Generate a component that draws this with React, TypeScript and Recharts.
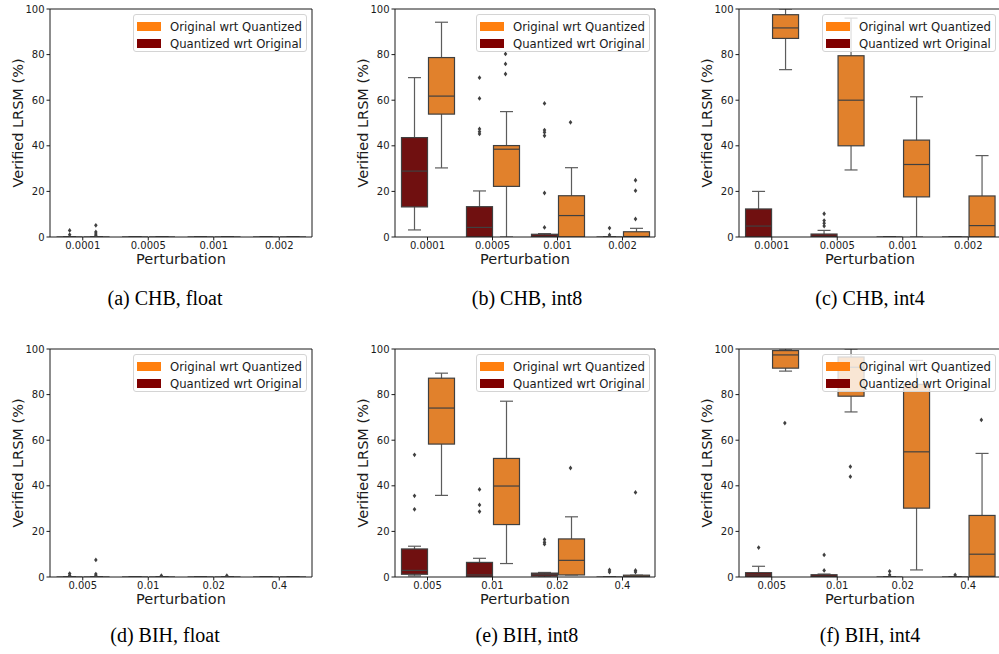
import React from 'react';
import { ComposedChart, Bar, Scatter, XAxis, YAxis, Legend, ReferenceLine } from 'recharts';

// perturbation levels per dataset
const CHB_CATS = ['0.0001', '0.0005', '0.001', '0.002'];
const BIH_CATS = ['0.005', '0.01', '0.02', '0.4'];
const Y_TICKS = [0, 20, 40, 60, 80, 100];

// box stats per perturbation: [whisker low, q1, median, q3, whisker high]
// "quant" = Quantized wrt Original, "orig" = Original wrt Quantized
const chbFloatQuant = [[0, 0, 0, 0, 0], [0, 0, 0, 0, 0], [0, 0, 0, 0, 0], [0, 0, 0, 0, 0]];
const chbFloatOrig = [[0, 0, 0, 0, 0], [0, 0, 0, 0, 0], [0, 0, 0, 0, 0], [0, 0, 0, 0, 0]];
const chbFloatQuantOut = [[2.9, 1.0], [], [], []];
const chbFloatOrigOut = [[5.1, 2.2, 1.3, 0.6], [], [], []];

const chbInt8Quant = [[3.1, 13.2, 28.9, 43.6, 69.9], [0, 0, 4.2, 13.3, 20.2], [0, 0, 0.3, 1.2, 1.5], [0, 0, 0, 0, 0]];
const chbInt8Orig = [[30.3, 53.9, 61.8, 78.7, 94.2], [0, 22.2, 38.5, 40.1, 55], [0, 0, 9.4, 18.1, 30.4], [0, 0, 0.2, 2.3, 3.8]];
const chbInt8QuantOut = [[], [69.9, 60.8, 47.4, 46.2, 45.2], [58.6, 46.9, 45.9, 44.4, 19.3, 4.2], [3.9, 0.9]];
const chbInt8OrigOut = [[], [80.3, 75.9, 71.5], [50.3], [24.9, 20.3, 7.9]];

const chbInt4Quant = [[0, 0, 4.8, 12.3, 20], [0, 0, 0.3, 1.3, 2.9], [0, 0, 0, 0, 0], [0, 0, 0, 0, 0]];
const chbInt4Orig = [[73.4, 87.1, 91.7, 97.5, 100], [29.4, 40, 60, 79.5, 96], [0, 17.6, 31.8, 42.5, 61.5], [0, 0, 5, 18, 35.7]];
const chbInt4QuantOut = [[], [10.2, 7.2, 6.0, 4.8], [], []];
const chbInt4OrigOut = [[], [], [], []];

const bihFloatQuant = [[0, 0, 0, 0, 0], [0, 0, 0, 0, 0], [0, 0, 0, 0, 0], [0, 0, 0, 0, 0]];
const bihFloatOrig = [[0, 0, 0, 0, 0], [0, 0, 0, 0, 0], [0, 0, 0, 0, 0], [0, 0, 0, 0, 0]];
const bihFloatQuantOut = [[1.5, 0.7], [], [], []];
const bihFloatOrigOut = [[7.5, 1.3, 0.6], [0.6], [0.6], []];

const bihInt8Quant = [[0.5, 1.2, 2.9, 12.3, 13.5], [0, 0, 0.9, 6.4, 8.2], [0, 0.4, 1.2, 1.7, 2], [0, 0, 0, 0, 0]];
const bihInt8Orig = [[35.8, 58.3, 74.1, 87.2, 89.4], [5.9, 23.0, 39.9, 52.0, 77.1], [0.9, 0.9, 7.3, 16.7, 26.4], [0, 0, 0.3, 0.8, 0.8]];
const bihInt8QuantOut = [[53.6, 35.6, 29.7], [38.4, 31.6, 28.7], [16.4, 15.2, 14.4], [3.1, 2.2]];
const bihInt8OrigOut = [[], [], [47.8], [37.1, 2.9, 2.2]];

const bihInt4Quant = [[0, 0, 0.9, 1.9, 4.7], [0, 0, 0.3, 1.0, 1.3], [0, 0, 0, 0, 0], [0, 0, 0, 0, 0]];
const bihInt4Orig = [[90.3, 91.6, 97.4, 99.3, 100], [72.4, 79.3, 92, 96.5, 100], [3.1, 30.2, 54.9, 84.5, 95], [0, 0.3, 10, 27, 54.2]];
const bihInt4QuantOut = [[12.9], [9.7, 2.9], [2.5, 0.9], [0.9]];
const bihInt4OrigOut = [[67.5], [48.4, 44], [], [68.9]];

const ORANGE = '#ff7f0e';
const ORANGE_BOX = '#e1812c';
const DARK = '#800000';
const DARK_BOX = '#701010';
const LINE = '#404040';
const AXIS = '#1a1a1a';
const SANS = "'DejaVu Sans', sans-serif";

const LEGEND_ITEMS = [
  { name: 'Original wrt Quantized', color: ORANGE },
  { name: 'Quantized wrt Original', color: DARK },
];

const PANELS = [
  { caption: '(a) CHB, float', cats: CHB_CATS, quant: chbFloatQuant, orig: chbFloatOrig, quantOut: chbFloatQuantOut, origOut: chbFloatOrigOut, col: 0, row: 0 },
  { caption: '(b) CHB, int8', cats: CHB_CATS, quant: chbInt8Quant, orig: chbInt8Orig, quantOut: chbInt8QuantOut, origOut: chbInt8OrigOut, col: 1, row: 0 },
  { caption: '(c) CHB, int4', cats: CHB_CATS, quant: chbInt4Quant, orig: chbInt4Orig, quantOut: chbInt4QuantOut, origOut: chbInt4OrigOut, col: 2, row: 0 },
  { caption: '(d) BIH, float', cats: BIH_CATS, quant: bihFloatQuant, orig: bihFloatOrig, quantOut: bihFloatQuantOut, origOut: bihFloatOrigOut, col: 0, row: 1 },
  { caption: '(e) BIH, int8', cats: BIH_CATS, quant: bihInt8Quant, orig: bihInt8Orig, quantOut: bihInt8QuantOut, origOut: bihInt8OrigOut, col: 1, row: 1 },
  { caption: '(f) BIH, int4', cats: BIH_CATS, quant: bihInt4Quant, orig: bihInt4Orig, quantOut: bihInt4QuantOut, origOut: bihInt4OrigOut, col: 2, row: 1 },
];

// layout of the grid
const PLOT_LEFT = [50, 395, 739];
const PLOT_WIDTH = [262, 260, 262];
const PLOT_TOP = [9, 349];
const PLOT_HEIGHT = 228;
const CAPTION_X = [165, 527, 870];
const CAPTION_Y = [298, 635];
const Y_AXIS_W = 64;
const X_AXIS_H = 30;
const MARGIN_TOP = 9;
const MARGIN_RIGHT = 2;

const makeBox = (statKey: string) => (props: any) => {
  const { x, y, width, height, payload, fill } = props;
  const [, q1, med, q3] = payload[statKey];
  const top = Math.min(y, y + height);
  const h = Math.abs(height);
  const my = q3 > q1 ? top + (h * (q3 - med)) / (q3 - q1) : top;
  return (
    <g>
      <rect x={x} y={top} width={width} height={h} fill={fill} stroke={LINE} strokeWidth={1.2} />
      <line x1={x} x2={x + width} y1={my} y2={my} stroke={LINE} strokeWidth={1.2} />
    </g>
  );
};

const Whisker = (props: any) => {
  const { x, y, width, height } = props;
  const cx = x + width / 2;
  const top = Math.min(y, y + height);
  const bottom = top + Math.abs(height);
  const cap = width / 4;
  return (
    <g stroke={LINE} strokeWidth={1.2} opacity={0.85}>
      <line x1={cx} x2={cx} y1={top} y2={bottom} />
      <line x1={cx - cap} x2={cx + cap} y1={top} y2={top} />
      <line x1={cx - cap} x2={cx + cap} y1={bottom} y2={bottom} />
    </g>
  );
};

const Diamond = (props: any) => {
  const { cx, cy } = props;
  return <path d={`M${cx},${cy - 2.4}L${cx + 1.8},${cy}L${cx},${cy + 2.4}L${cx - 1.8},${cy}Z`} fill={LINE} />;
};

function LegendBox() {
  return (
    <div
      style={{
        width: 174,
        height: 38,
        boxSizing: 'border-box',
        border: '1px solid #d4d4d4',
        borderRadius: 3,
        background: 'rgba(255,255,255,0.8)',
        fontFamily: SANS,
        fontSize: 11.7,
        color: '#1a1a1a',
        padding: '3px 0 0 3px',
      }}
    >
      {LEGEND_ITEMS.map((it) => (
        <div key={it.name} style={{ display: 'flex', alignItems: 'center', height: 17 }}>
          <span style={{ display: 'inline-block', width: 24, height: 9, background: it.color, marginRight: 9 }} />
          <span style={{ whiteSpace: 'nowrap' }}>{it.name}</span>
        </div>
      ))}
    </div>
  );
}

function Panel({ panel }: { panel: (typeof PANELS)[number] }) {
  const plotW = PLOT_WIDTH[panel.col];
  const width = Y_AXIS_W + plotW + MARGIN_RIGHT;
  const height = MARGIN_TOP + PLOT_HEIGHT + X_AXIS_H;

  const rows = panel.cats.map((cat, i) => ({
    cat,
    qStat: panel.quant[i],
    oStat: panel.orig[i],
    qBox: [panel.quant[i][1], panel.quant[i][3]],
    oBox: [panel.orig[i][1], panel.orig[i][3]],
    qWhisk: [panel.quant[i][0], panel.quant[i][4]],
    oWhisk: [panel.orig[i][0], panel.orig[i][4]],
  }));
  const quantPts = panel.quantOut.flatMap((vals, i) => vals.map((v) => ({ x: i - 0.2, y: v })));
  const origPts = panel.origOut.flatMap((vals, i) => vals.map((v) => ({ x: i + 0.2, y: v })));

  return (
    <div style={{ position: 'absolute', left: PLOT_LEFT[panel.col] - Y_AXIS_W, top: PLOT_TOP[panel.row] - MARGIN_TOP }}>
      <ComposedChart
        width={width}
        height={height}
        data={rows}
        margin={{ top: MARGIN_TOP, right: MARGIN_RIGHT, bottom: 0, left: 0 }}
        barCategoryGap="10%"
        barGap={1}
      >
        <XAxis
          xAxisId="box"
          dataKey="cat"
          height={X_AXIS_H}
          tick={{ fontSize: 10, fill: AXIS, fontFamily: SANS }}
          tickSize={3.5}
          tickMargin={1}
          stroke={AXIS}
          label={{ value: 'Perturbation', position: 'insideBottom', offset: 3, fontSize: 14.5, fill: AXIS, style: { fontFamily: SANS } }}
        />
        <XAxis xAxisId="whisk" dataKey="cat" hide />
        <XAxis xAxisId="pts" type="number" dataKey="x" domain={[-0.5, 3.5]} allowDataOverflow hide />
        <YAxis
          domain={[0, 100]}
          ticks={Y_TICKS}
          allowDataOverflow
          width={Y_AXIS_W}
          tick={{ fontSize: 10, fill: AXIS, fontFamily: SANS }}
          tickSize={3.5}
          tickMargin={2}
          stroke={AXIS}
          label={{ value: 'Verified LRSM (%)', angle: -90, position: 'center', fontSize: 14.5, fill: AXIS, style: { fontFamily: SANS } }}
        />
        <Legend
          layout="horizontal"
          verticalAlign="middle"
          align="center"
          content={() => <LegendBox />}
          wrapperStyle={{ left: Y_AXIS_W + plotW - 5 - 174, top: MARGIN_TOP + 5, width: 174, height: 38 }}
        />
        <Bar xAxisId="whisk" dataKey="qWhisk" shape={Whisker} legendType="none" isAnimationActive={false} />
        <Bar xAxisId="whisk" dataKey="oWhisk" shape={Whisker} legendType="none" isAnimationActive={false} />
        <Bar xAxisId="box" dataKey="qBox" name="Quantized wrt Original" fill={DARK_BOX} shape={makeBox('qStat')} isAnimationActive={false} />
        <Bar xAxisId="box" dataKey="oBox" name="Original wrt Quantized" fill={ORANGE_BOX} shape={makeBox('oStat')} isAnimationActive={false} />
        <Scatter xAxisId="pts" data={quantPts} dataKey="y" shape={Diamond} legendType="none" isAnimationActive={false} />
        <Scatter xAxisId="pts" data={origPts} dataKey="y" shape={Diamond} legendType="none" isAnimationActive={false} />
        {/* top and right spines */}
        <ReferenceLine xAxisId="box" y={100} stroke={AXIS} strokeWidth={1} ifOverflow="visible" />
        <ReferenceLine xAxisId="pts" x={3.5} stroke={AXIS} strokeWidth={1} ifOverflow="visible" />
      </ComposedChart>
    </div>
  );
}

export default function App() {
  return (
    <div style={{ position: 'absolute', left: 0, top: 0, width: 999, height: 654, background: '#fff', overflow: 'hidden' }}>
      {PANELS.map((p) => (
        <Panel key={p.caption} panel={p} />
      ))}
      {PANELS.map((p) => (
        <div
          key={'cap' + p.caption}
          style={{
            position: 'absolute',
            left: CAPTION_X[p.col] - 150,
            top: CAPTION_Y[p.row] - 12,
            width: 300,
            lineHeight: '24px',
            textAlign: 'center',
            fontFamily: "'Liberation Serif', 'Times New Roman', serif",
            fontSize: 20,
            color: '#000',
          }}
        >
          {p.caption}
        </div>
      ))}
    </div>
  );
}
